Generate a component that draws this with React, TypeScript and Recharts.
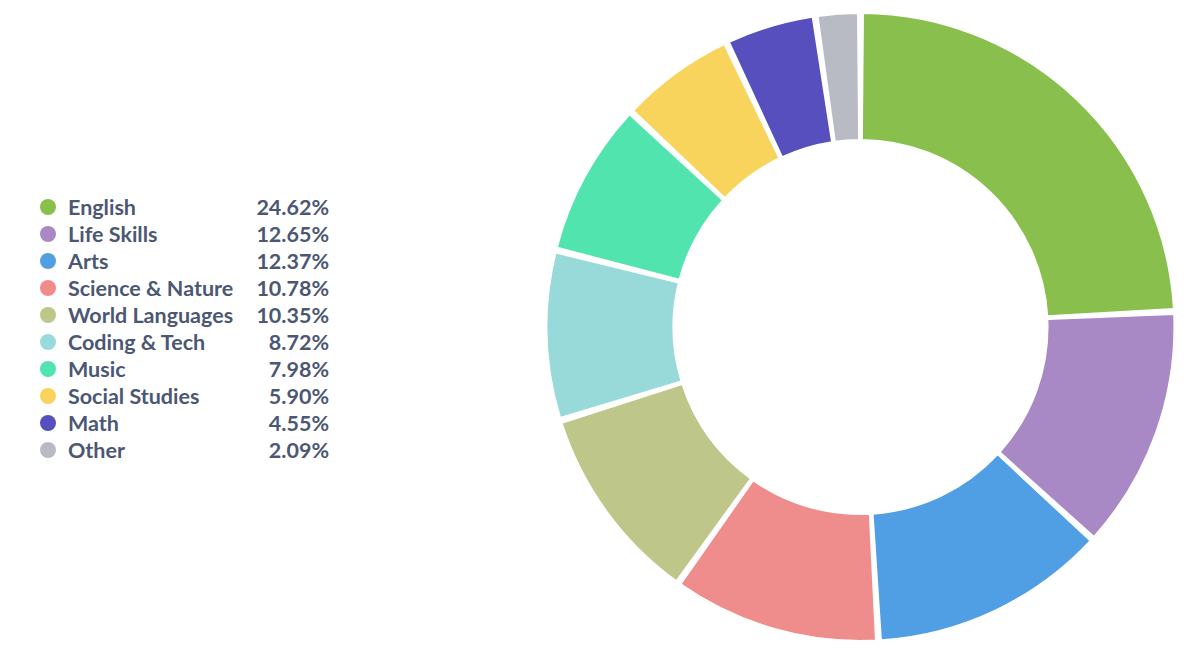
import { PieChart, Pie, Cell, Legend } from 'recharts';

const categories = [
  'English',
  'Life Skills',
  'Arts',
  'Science & Nature',
  'World Languages',
  'Coding & Tech',
  'Music',
  'Social Studies',
  'Math',
  'Other',
];

const shares = [24.62, 12.65, 12.37, 10.78, 10.35, 8.72, 7.98, 5.9, 4.55, 2.09];

const colors = [
  '#88BF4D',
  '#A989C5',
  '#509EE3',
  '#EF8C8C',
  '#BEC68A',
  '#98D9D9',
  '#51E4AE',
  '#F9D45C',
  '#574FBE',
  '#B8BBC3',
];

const data = categories.map((name, i) => ({ name, value: shares[i] }));

const textColor = '#4C5773';
const pad = 1; // degrees between slices

function LegendList() {
  return (
    <div style={{ width: 289, fontFamily: 'Lato, sans-serif' }}>
      {data.map((d, i) => (
        <div
          key={d.name}
          style={{ display: 'flex', alignItems: 'center', height: 27, color: textColor }}
        >
          <span
            style={{
              width: 16,
              height: 16,
              borderRadius: '50%',
              background: colors[i],
              marginRight: 12,
              flexShrink: 0,
            }}
          />
          <span style={{ fontSize: 21.5, fontWeight: 700, flex: 1 }}>{d.name}</span>
          <span style={{ fontSize: 21.5, fontWeight: 700 }}>{d.value.toFixed(2)}%</span>
        </div>
      ))}
    </div>
  );
}

export default function App() {
  return (
    <div style={{ position: 'absolute', left: 0, top: 0, width: 1200, height: 660, background: '#fff' }}>
      <PieChart width={1200} height={660} margin={{ top: 0, right: 0, bottom: 0, left: 0 }}>
        <Pie
          data={data}
          dataKey="value"
          nameKey="name"
          cx={860.5}
          cy={327}
          innerRadius={187.3}
          outerRadius={313.7}
          startAngle={90 - pad / 2}
          endAngle={-270 - pad / 2}
          paddingAngle={pad}
          stroke="#fff"
          strokeWidth={1.5}
          isAnimationActive={false}
        >
          {data.map((d, i) => (
            <Cell key={d.name} fill={colors[i]} />
          ))}
        </Pie>
        <Legend
          layout="vertical"
          content={() => <LegendList />}
          wrapperStyle={{ left: 40, top: 193, width: 289 }}
        />
      </PieChart>
    </div>
  );
}
